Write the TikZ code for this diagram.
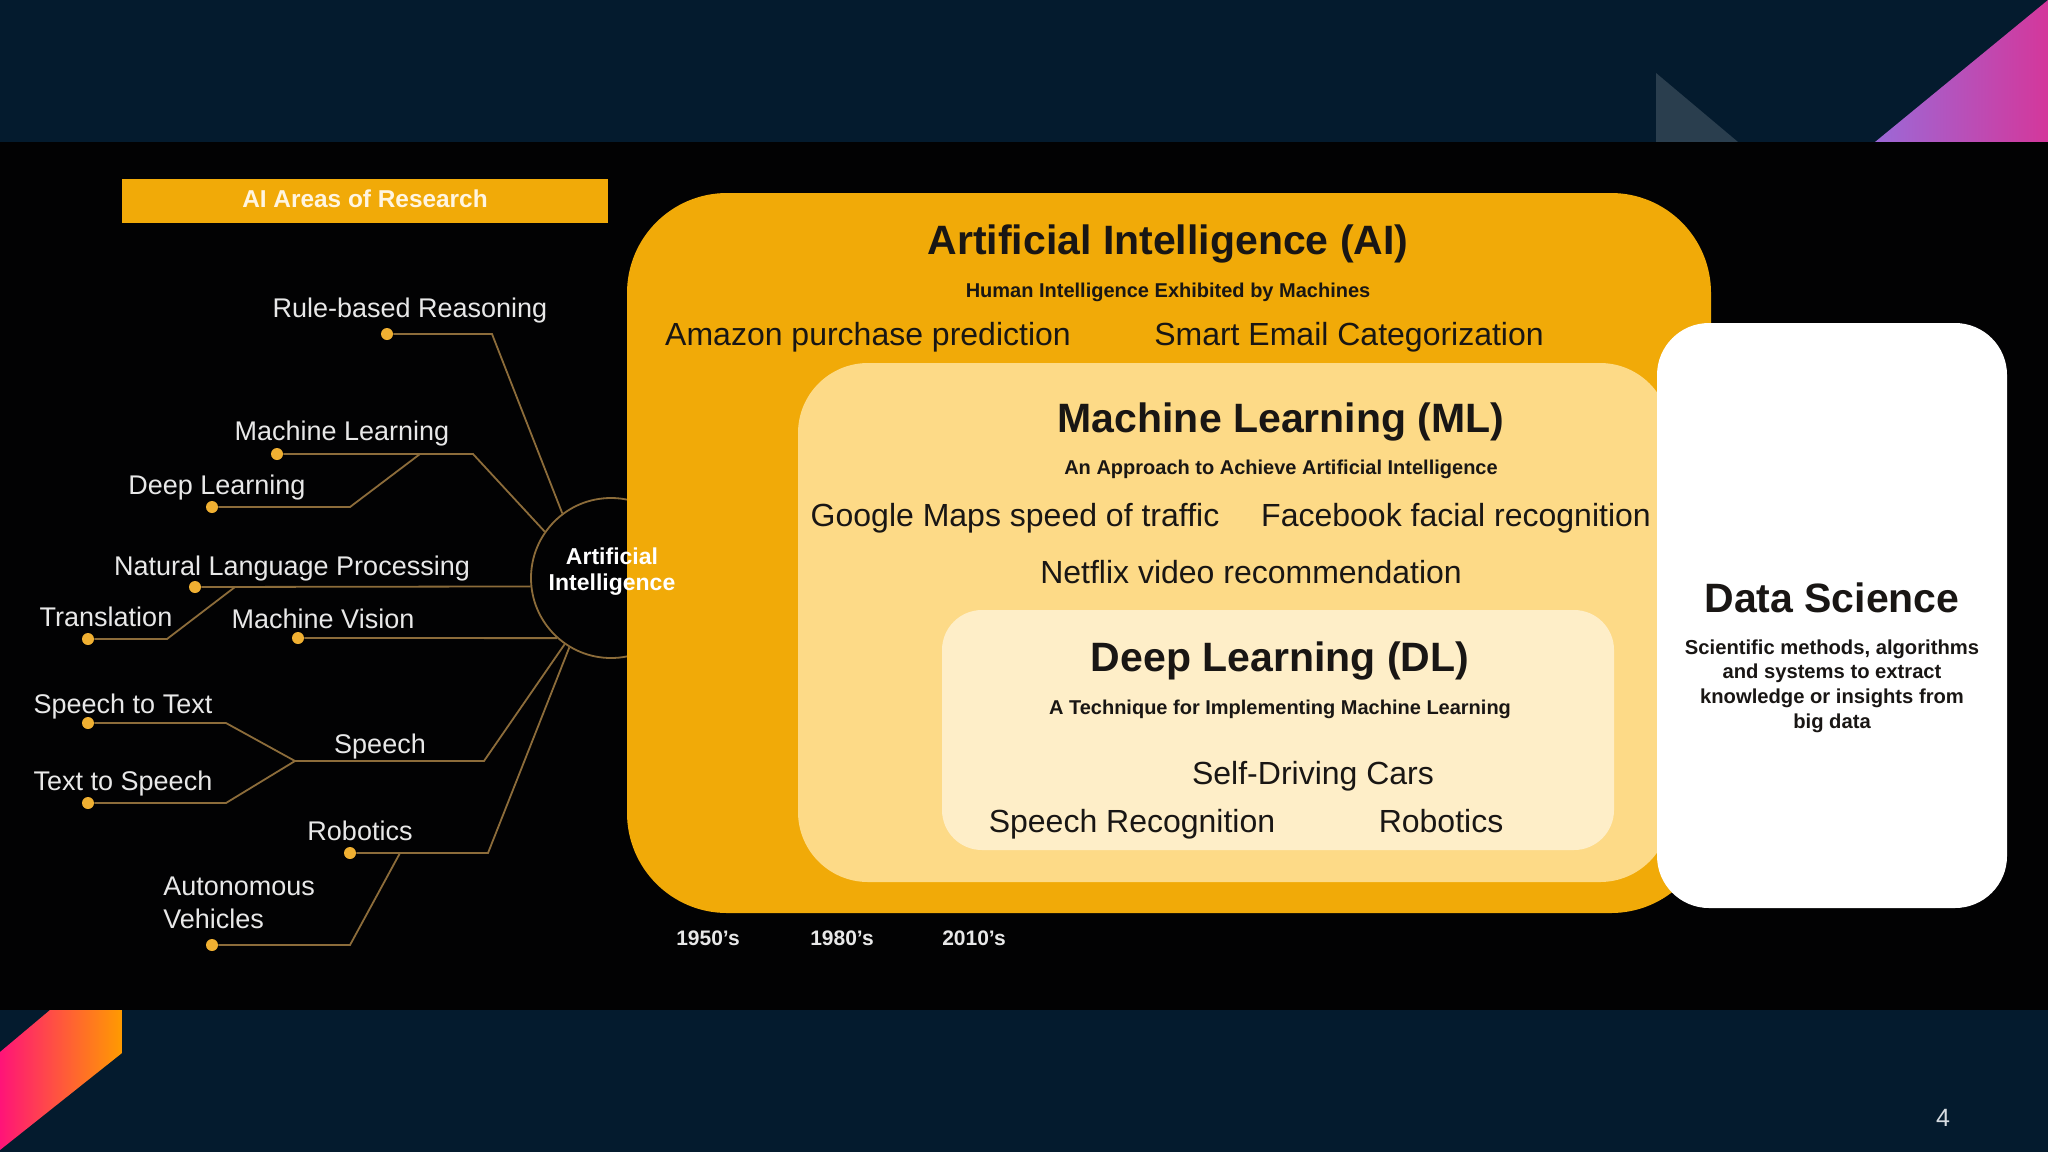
\documentclass[tikz,border=0pt]{standalone}
\usepackage{fontspec}
\setmainfont{Liberation Sans}
\definecolor{navy}{RGB}{4,27,46}
\definecolor{bandblack}{RGB}{2,2,3}
\definecolor{trigray}{RGB}{42,62,78}
\definecolor{purpleL}{RGB}{155,105,215}
\definecolor{magentaR}{RGB}{212,55,155}
\definecolor{pinkL}{RGB}{255,20,120}
\definecolor{orangeR}{RGB}{255,155,0}
\definecolor{aiyellow}{RGB}{241,170,8}
\definecolor{mlyellow}{RGB}{253,218,135}
\definecolor{dlcream}{RGB}{254,238,200}
\definecolor{linebrown}{RGB}{140,108,58}
\definecolor{dotgold}{RGB}{240,176,50}
\definecolor{labelgray}{RGB}{232,232,232}
\definecolor{bartext}{RGB}{255,245,225}
\definecolor{darktext}{RGB}{25,22,20}
\definecolor{pagenum}{RGB}{215,220,225}
\begin{document}
\begin{tikzpicture}[x=0.5pt,y=-0.5pt,
  lbl/.style={text=labelgray, inner sep=0pt, anchor=base, font=\fontsize{13.5}{16.5}\selectfont},
  conn/.style={draw=linebrown, line width=0.9pt},
  dot/.style={circle, fill=dotgold, inner sep=0pt, minimum size=6pt},
  ttl/.style={text=darktext, inner sep=0pt, anchor=base, font=\fontsize{20.5}{24}\selectfont\bfseries},
  subt/.style={text=darktext, inner sep=0pt, anchor=base, font=\fontsize{10}{12}\selectfont\bfseries},
  ex/.style={text=darktext, inner sep=0pt, anchor=base, font=\fontsize{16}{19}\selectfont},
  yr/.style={text=labelgray, inner sep=0pt, anchor=base, font=\fontsize{10.5}{12}\selectfont\bfseries},
  panel/.style={inner sep=0pt, draw=none}
]
\useasboundingbox (0,0) rectangle (2048,1152);
% background bands
\fill[navy] (0,0) rectangle (2048,1152);
\fill[trigray] (1656,73) -- (1656,142) -- (1738,142) -- cycle;
\shade[left color=purpleL, right color=magentaR] (1875,142) -- (2048,0) -- (2048,142) -- cycle;
\shade[left color=pinkL, right color=orangeR] (50,1010) -- (122,1010) -- (122,1053) -- (0,1150) -- (0,1052) -- cycle;
\fill[bandblack] (0,142) rectangle (2048,1010);

% title bar
\node[panel, fill=aiyellow, minimum width=243pt, minimum height=22pt] (bar) at (365,201) {};
\node[text=bartext, inner sep=0pt, anchor=base, font=\fontsize{12.2}{14}\selectfont\bfseries] (bartitle) at (365,207.5) {AI Areas of Research};

% central circle
\node[circle, draw=linebrown, line width=0.9pt, minimum size=80pt, inner sep=0pt] (ai) at (611,578) {};

% dots
\node[dot] (d-rule) at (387,334) {};
\node[dot] (d-ml) at (277,454) {};
\node[dot] (d-dl) at (212,507) {};
\node[dot] (d-nlp) at (195,587) {};
\node[dot] (d-tr) at (88,639) {};
\node[dot] (d-mv) at (298,638) {};
\node[dot] (d-stt) at (88,723) {};
\node[dot] (d-tts) at (88,803) {};
\node[dot] (d-rob) at (350,853) {};
\node[dot] (d-av) at (212,945) {};

% junctions
\coordinate (j-rule) at (492,334);
\coordinate (j-ml) at (473,454);
\coordinate (j-dl) at (350,507);
\coordinate (j-dlml) at (420,454);
\coordinate (j-tr) at (167,639);
\coordinate (j-trnlp) at (235,587);
\coordinate (j-stt) at (226,723);
\coordinate (j-tts) at (226,803);
\coordinate (j-sp) at (295,761);
\coordinate (j-sp2) at (484,761);
\coordinate (j-rob) at (488,853);
\coordinate (j-av) at (350,945);
\coordinate (j-avrob) at (400,853);

% connectors
\draw[conn] (d-rule) -- (j-rule) -- (ai.127);
\draw[conn] (d-ml) -- (j-ml) -- (ai.145);
\draw[conn] (d-dl) -- (j-dl) -- (j-dlml);
\draw[conn] (d-nlp) -- (ai.186);
\draw[conn] (d-tr) -- (j-tr) -- (j-trnlp);
\draw[conn] (d-mv) -- (ai.228);
\draw[conn] (d-stt) -- (j-stt) -- (j-sp);
\draw[conn] (d-tts) -- (j-tts) -- (j-sp);
\draw[conn] (j-sp) -- (j-sp2) -- (ai.235);
\draw[conn] (d-rob) -- (j-rob) -- (ai.239);
\draw[conn] (d-av) -- (j-av) -- (j-avrob);

% labels of the tree
\node[lbl] (t-rule) at (410,317) {Rule-based Reasoning};
\node[lbl] (t-ml) at (342,440) {Machine Learning};
\node[lbl] (t-dl) at (217,494) {Deep Learning};
\node[lbl] (t-nlp) at (292,575) {Natural Language Processing};
\node[lbl] (t-tr) at (106,626) {Translation};
\node[lbl] (t-mv) at (323,628) {Machine Vision};
\node[lbl] (t-stt) at (123,713) {Speech to Text};
\node[lbl] (t-sp) at (380,753) {Speech};
\node[lbl] (t-tts) at (123,790) {Text to Speech};
\node[lbl] (t-rob) at (360,840) {Robotics};
\node[lbl, anchor=west, align=left] (t-av) at (163,903) {Autonomous\\Vehicles};

% nested panels
\node[panel, fill=aiyellow, rounded corners=50pt, minimum width=542pt, minimum height=360pt] (aibox) at (1169,553) {};
\node[panel, fill=mlyellow, rounded corners=35pt, minimum width=436pt, minimum height=259.5pt] (mlbox) at (1234,622.5) {};
\node[panel, fill=dlcream, rounded corners=20pt, minimum width=336pt, minimum height=120pt] (dlbox) at (1278,730) {};
\node[panel, fill=white, rounded corners=26pt, minimum width=175pt, minimum height=292.5pt] (dsbox) at (1832,615.5) {};

% circle label
\node[text=white, inner sep=0pt, align=center, font=\fontsize{11.5}{13}\selectfont\bfseries] (ailabel) at (612,572) {Artificial\\Intelligence};

% AI panel texts
\node[ttl] (ai-t) at (1168,254) {Artificial Intelligence (AI)};
\node[subt] (ai-s) at (1168,297) {Human Intelligence Exhibited by Machines};
\node[ex] (ai-e1) at (868,345) {Amazon purchase prediction};
\node[ex] (ai-e2) at (1349,345) {Smart Email Categorization};

% ML panel texts
\node[ttl] (ml-t) at (1281,432) {Machine Learning (ML)};
\node[subt] (ml-s) at (1281,474) {An Approach to Achieve Artificial Intelligence};
\node[ex] (ml-e1) at (1015,526) {Google Maps speed of traffic};
\node[ex] (ml-e2) at (1456,526) {Facebook facial recognition};
\node[ex] (ml-e3) at (1251,583) {Netflix video recommendation};

% DL panel texts
\node[ttl] (dl-t) at (1280,671) {Deep Learning (DL)};
\node[subt] (dl-s) at (1280,714) {A Technique for Implementing Machine Learning};
\node[ex] (dl-e1) at (1313,784) {Self-Driving Cars};
\node[ex] (dl-e2) at (1132,832) {Speech Recognition};
\node[ex] (dl-e3) at (1441,832) {Robotics};

% Data Science
\node[ttl] (ds-t) at (1832,612) {Data Science};
\node[text=darktext, inner sep=0pt, align=center, font=\fontsize{10.1}{12.35}\selectfont\bfseries] (ds-s) at (1832,686) {Scientific methods, algorithms\\and systems to extract\\knowledge or insights from\\big data};

% years
\node[yr] (y1) at (708,945) {1950’s};
\node[yr] (y2) at (842,945) {1980’s};
\node[yr] (y3) at (974,945) {2010’s};

% page number
\node[text=pagenum, inner sep=0pt, anchor=base, font=\fontsize{12.5}{15}\selectfont] (pg) at (1943,1126) {4};
\end{tikzpicture}
\end{document}
